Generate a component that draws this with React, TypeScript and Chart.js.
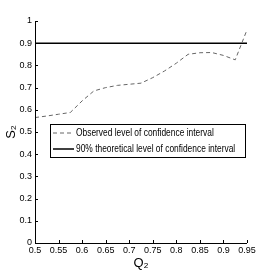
import React, { useEffect, useRef } from "react";
import { Chart, registerables } from "chart.js";
Chart.register(...registerables);

const qValues = [0.5, 0.525, 0.55, 0.575, 0.6, 0.625, 0.65, 0.675, 0.7, 0.725, 0.75, 0.775, 0.8, 0.825, 0.85, 0.875, 0.9, 0.925, 0.95];
const observed = [0.565, 0.572, 0.58, 0.588, 0.64, 0.685, 0.7, 0.71, 0.715, 0.72, 0.745, 0.775, 0.81, 0.85, 0.857, 0.858, 0.845, 0.825, 0.96];
const theoretical = 0.9;
const xTicks = [0.5, 0.55, 0.6, 0.65, 0.7, 0.75, 0.8, 0.85, 0.9, 0.95];
const yTicks = [0, 0.1, 0.2, 0.3, 0.4, 0.5, 0.6, 0.7, 0.8, 0.9, 1];
const labels = ["Observed level of confidence interval", "90% theoretical level of confidence interval"];

const FONT = "'Liberation Sans Narrow', 'Liberation Sans', Arial, sans-serif";

const inwardTicks = {
  id: "inwardTicks",
  afterDraw(chart: any) {
    const { ctx, chartArea, scales } = chart;
    ctx.save();
    ctx.strokeStyle = "#000";
    ctx.lineWidth = 1;
    ctx.beginPath();
    ctx.moveTo(chartArea.left + 0.5, chartArea.top);
    ctx.lineTo(chartArea.left + 0.5, chartArea.bottom + 0.5);
    ctx.lineTo(chartArea.right, chartArea.bottom + 0.5);
    ctx.stroke();
    ctx.beginPath();
    for (const v of yTicks) {
      const y = Math.round(scales.y.getPixelForValue(v)) + 0.5;
      ctx.moveTo(chartArea.left, y);
      ctx.lineTo(chartArea.left + 3, y);
    }
    for (const v of xTicks) {
      const x = Math.round(scales.x.getPixelForValue(v)) + 0.5;
      ctx.moveTo(x, chartArea.bottom);
      ctx.lineTo(x, chartArea.bottom - 3);
    }
    ctx.stroke();
    ctx.restore();
  },
};

const boxLegend = {
  id: "boxLegend",
  afterDraw(chart: any) {
    const { ctx, chartArea } = chart;
    const x0 = chartArea.left + 15;
    const y0 = chartArea.top + 103;
    const w = 195;
    const h = 33;
    ctx.save();
    ctx.fillStyle = "#fff";
    ctx.fillRect(x0, y0, w, h);
    ctx.strokeStyle = "#000";
    ctx.lineWidth = 1;
    ctx.strokeRect(x0 + 0.5, y0 + 0.5, w, h);
    ctx.font = "10px " + FONT;
    ctx.textBaseline = "middle";
    ctx.fillStyle = "#000";
    chart.data.datasets.forEach((ds: any, i: number) => {
      const y = y0 + 9 + i * 16;
      ctx.beginPath();
      ctx.strokeStyle = ds.borderColor;
      ctx.lineWidth = ds.borderWidth;
      ctx.setLineDash(ds.borderDash || []);
      ctx.moveTo(x0 + 3, y);
      ctx.lineTo(x0 + 24, y);
      ctx.stroke();
      ctx.setLineDash([]);
      ctx.save();
      ctx.translate(x0 + 26, y);
      ctx.scale(0.84, 1);
      ctx.fillText(ds.label, 0, 0);
      ctx.restore();
    });
    ctx.restore();
  },
};

export default function App() {
  const ref = useRef<HTMLCanvasElement>(null);
  useEffect(() => {
    const chart = new Chart(ref.current!, {
      type: "line",
      data: {
        datasets: [
          {
            label: labels[0],
            data: qValues.map((q, i) => ({ x: q, y: observed[i] })),
            borderColor: "#666",
            borderWidth: 1,
            borderDash: [4, 3],
            pointRadius: 0,
            tension: 0,
          },
          {
            label: labels[1],
            data: [
              { x: qValues[0], y: theoretical },
              { x: qValues[qValues.length - 1], y: theoretical },
            ],
            borderColor: "#000",
            borderWidth: 1.5,
            pointRadius: 0,
          },
        ],
      },
      options: {
        animation: false,
        responsive: false,
        layout: { padding: { left: 0, right: 26, top: 21, bottom: 0 } },
        plugins: { legend: { display: false }, tooltip: { enabled: false } },
        scales: {
          x: {
            type: "linear",
            min: 0.5,
            max: 0.95,
            afterBuildTicks: (s: any) => { s.ticks = xTicks.map((v) => ({ value: v })); },
            afterFit: (s: any) => { s.height = 30; },
            border: { display: false },
            grid: { display: false, drawTicks: false },
            ticks: {
              padding: 2,
              maxRotation: 0,
              autoSkip: false,
              color: "#000",
              font: { family: FONT, size: 9 },
              callback: (v: any) => String(v),
            },
            title: { display: true, text: "Q₂", color: "#000", padding: 2, font: { family: FONT, size: 13 } },
          },
          y: {
            type: "linear",
            min: 0,
            max: 1,
            afterBuildTicks: (s: any) => { s.ticks = yTicks.map((v) => ({ value: v })); },
            afterFit: (s: any) => { s.width = 35; },
            border: { display: false },
            grid: { display: false, drawTicks: false },
            ticks: {
              padding: 3,
              autoSkip: false,
              color: "#000",
              font: { family: FONT, size: 9 },
              callback: (v: any) => String(v),
            },
            title: { display: true, text: "S₂", color: "#000", padding: 4, font: { family: FONT, size: 13 } },
          },
        },
      },
      plugins: [inwardTicks, boxLegend],
    } as any);
    return () => chart.destroy();
  }, []);
  return (
    <div style={{ position: "fixed", left: 0, top: 0, width: 273, height: 273, background: "#fff" }}>
      <canvas ref={ref} width={273} height={273} style={{ width: 273, height: 273 }} />
    </div>
  );
}
